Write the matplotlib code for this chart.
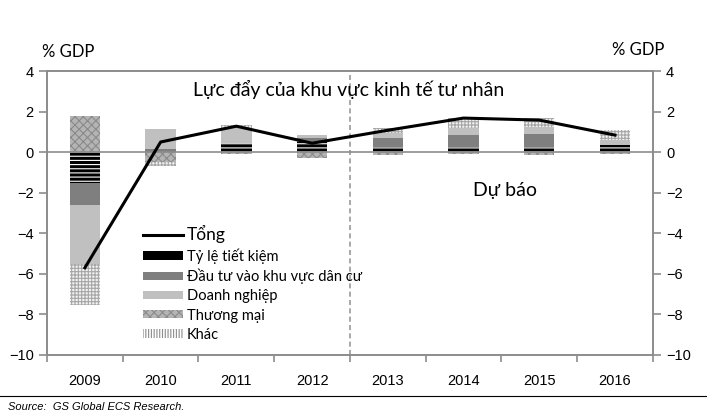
import matplotlib

matplotlib.use("Agg")
import matplotlib.pyplot as plt
import numpy as np
from matplotlib.lines import Line2D
from matplotlib.patches import Patch

years = ["2009", "2010", "2011", "2012", "2013", "2014", "2015", "2016"]
total = [-5.7, 0.5, 1.28, 0.44, 1.08, 1.68, 1.58, 0.84]

# components (positive part stacks up, negative part stacks down)
tiet_kiem = [-1.5, 0.0, 0.47, 0.5, 0.25, 0.26, 0.26, 0.35]
dau_tu = [-1.1, 0.15, 0.0, 0.22, 0.43, 0.58, 0.65, 0.0]
doanh_nghiep = [-2.9, 1.0, 0.73, 0.12, 0.24, 0.33, 0.34, 0.25]
thuong_mai = [1.8, -0.5, -0.1, -0.3, -0.15, -0.08, -0.15, -0.1]
khac = [-2.05, -0.2, 0.13, 0.0, 0.26, 0.49, 0.41, 0.48]

series_names = ["Tỷ lệ tiết kiệm", "Đầu tư vào khu vực dân cư", "Doanh nghiệp",
                "Thương mại", "Khác"]
series = [tiet_kiem, dau_tu, doanh_nghiep, thuong_mai, khac]
# facecolor, hatch, hatch colour (bars)
styles = [
    ("black", "----", "white"),
    ("#7f7f7f", None, "#7f7f7f"),
    ("#c0c0c0", None, "#c0c0c0"),
    ("#b4b4b4", "xxxx", "#8a8a8a"),
    ("#f2f2f2", "+++++", "#a6a6a6"),
]
# legend swatches
leg_styles = [
    ("black", None, "black"),
    ("#7f7f7f", None, "#7f7f7f"),
    ("#c0c0c0", None, "#c0c0c0"),
    ("#b4b4b4", "xxxx", "#8a8a8a"),
    ("white", "||||||", "#8c8c8c"),
]

TXT = ["Lato", "Noto Sans", "DejaVu Sans"]
NUM = ["Liberation Sans", "DejaVu Sans"]
GREY = "#8c8c8c"

plt.rcParams["hatch.linewidth"] = 0.8

fig = plt.figure(figsize=(7.07, 4.17), dpi=100)
ax = fig.add_axes([0.0665, 0.1487, 0.857, 0.681])

x = np.arange(len(years))
pos_base = np.zeros(len(years))
neg_base = np.zeros(len(years))
for vals, (fc, hatch, hc) in zip(series, styles):
    vals = np.array(vals)
    pos = np.where(vals > 0, vals, 0)
    neg = np.where(vals < 0, vals, 0)
    ax.bar(x, pos, 0.4, bottom=pos_base, facecolor=fc, hatch=hatch,
           edgecolor=hc, linewidth=0, zorder=2)
    ax.bar(x, neg, 0.4, bottom=neg_base, facecolor=fc, hatch=hatch,
           edgecolor=hc, linewidth=0, zorder=2)
    pos_base += pos
    neg_base += neg

ax.plot(x, total, color="black", lw=2.2, zorder=4)
ax.axhline(0, color=GREY, lw=1.2, zorder=3)
ax.axvline(3.5, color="#9a9a9a", lw=1.2, ls=(0, (3, 2)), zorder=1)

ax.set_xlim(-0.5, 7.5)
ax.set_ylim(-10, 4)
ax.set_yticks(range(-10, 5, 2))
ax.set_xticks(x)
ax.set_xticklabels(years, family=NUM, fontsize=10.5)
ax.set_xticks(np.arange(-0.5, 8, 1), minor=True)
ax.tick_params(axis="x", which="major", length=0, pad=14)
ax.tick_params(axis="x", which="minor", length=5, color=GREY, width=1.2)
ax.tick_params(axis="y", length=6, color=GREY, width=1.2, labelsize=10.5)
for lab in ax.get_yticklabels():
    lab.set_family(NUM)
for s in ax.spines.values():
    s.set_color(GREY)
    s.set_linewidth(1.2)

ax2 = ax.twinx()
ax2.set_ylim(-10, 4)
ax2.set_yticks(range(-10, 5, 2))
ax2.tick_params(axis="y", length=6, color=GREY, width=1.2, labelsize=10.5)
for lab in ax2.get_yticklabels():
    lab.set_family(NUM)
for s in ax2.spines.values():
    s.set_color(GREY)
    s.set_linewidth(1.2)

ax.text(3.48, 3.1, "Lực đẩy của khu vực kinh tế tư nhân", ha="center",
        va="center", fontsize=14, family=TXT)
ax.text(5.55, -1.9, "Dự báo", ha="center", va="center", fontsize=14,
        family=TXT)
fig.text(0.06, 0.875, "% GDP", ha="left", va="center", fontsize=12, family=TXT)
fig.text(0.865, 0.88, "% GDP", ha="left", va="center", fontsize=12, family=TXT)

handles = [Line2D([], [], color="black", lw=2.2)]
for fc, hatch, hc in leg_styles:
    handles.append(Patch(facecolor=fc, hatch=hatch, edgecolor=hc, linewidth=0))
leg = ax.legend(handles, ["Tổng"] + series_names, loc="upper left",
                bbox_to_anchor=(0.148, 0.478), frameon=False, prop={"family": TXT,
                "size": 10.5}, handlelength=2.75, handleheight=0.5,
                labelspacing=0.35, handletextpad=0.3, borderaxespad=0)
leg.get_texts()[0].set_fontsize(12.5)

fig.add_artist(Line2D([0.0, 1.0], [0.05, 0.05], transform=fig.transFigure,
                      color="black", lw=0.8))
fig.text(0.011, 0.025, "Source:  GS Global ECS Research.", fontsize=8,
         style="italic", family=NUM, va="center")

fig.savefig("out.png", dpi=100)
